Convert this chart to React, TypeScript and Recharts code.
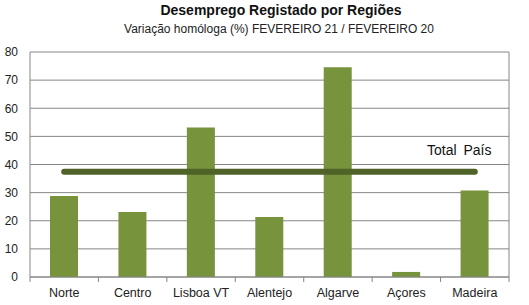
import React from 'react';
import { ComposedChart, Bar, Line, XAxis, YAxis, CartesianGrid } from 'recharts';

// Registered unemployment, YoY change (%) Feb 21 / Feb 20
const regions = ['Norte', 'Centro', 'Lisboa VT', 'Alentejo', 'Algarve', 'Açores', 'Madeira'];
const variation = [28.8, 23.1, 53.2, 21.3, 74.6, 1.8, 30.8];
const totalPais = 37.4;
const yTicks = [0, 10, 20, 30, 40, 50, 60, 70, 80];

const W = 529;
const H = 305;
const M = { top: 52, right: 20, bottom: 0, left: 0 };
const Y_W = 30;
const BAND = (W - M.left - M.right - Y_W) / regions.length;

const data = regions.map((name, i) => ({ name, value: variation[i], total: totalPais }));

const font = '"Liberation Sans", Arial, sans-serif';

const XTick = (props: any) => {
  const { x, y, payload, index } = props;
  const left = x - BAND / 2;
  return (
    <g>
      <line x1={left} x2={left} y1={y - 8} y2={y - 3} stroke="#868686" />
      {index === regions.length - 1 && (
        <line x1={x + BAND / 2} x2={x + BAND / 2} y1={y - 8} y2={y - 3} stroke="#868686" />
      )}
      <text x={x} y={y + 12} textAnchor="middle" fill="#222" fontSize={12.5} fontFamily={font}>
        {payload.value}
      </text>
    </g>
  );
};

export default function App() {
  return (
    <div style={{ position: 'relative', width: W, height: H, background: '#fff', fontFamily: font }}>
      <style>{'body{margin:0}'}</style>
      <div style={{ position: 'absolute', left: 0, width: 562, top: 2, textAlign: 'center', fontWeight: 'bold', fontSize: 14, color: '#111' }}>
        Desemprego Registado por Regiões
      </div>
      <div style={{ position: 'absolute', left: 0, width: 558, top: 22, textAlign: 'center', fontSize: 12, color: '#222' }}>
        Variação homóloga (%) FEVEREIRO 21 / FEVEREIRO 20
      </div>
      <div style={{ position: 'absolute', left: 427, top: 142, fontSize: 14, color: '#111', wordSpacing: 3 }}>
        Total País
      </div>
      <ComposedChart width={W} height={H} data={data} margin={M}>
        <CartesianGrid
          stroke="#868686"
          verticalCoordinatesGenerator={({ offset }: any) => [offset.left + offset.width]}
        />
        <XAxis
          dataKey="name"
          height={28}
          axisLine={{ stroke: '#868686' }}
          tickLine={false}
          interval={0}
          tick={<XTick />}
        />
        <YAxis
          width={Y_W}
          domain={[0, 80]}
          ticks={yTicks}
          axisLine={{ stroke: '#868686' }}
          tickLine={false}
          tickMargin={6}
          tick={{ fill: '#222', fontSize: 12, fontFamily: font }}
        />
        <Bar dataKey="value" fill="#77933c" barSize={28} isAnimationActive={false} />
        <Line
          dataKey="total"
          stroke="#4f6228"
          strokeWidth={6}
          strokeLinecap="round"
          dot={false}
          activeDot={false}
          isAnimationActive={false}
        />
      </ComposedChart>
    </div>
  );
}
